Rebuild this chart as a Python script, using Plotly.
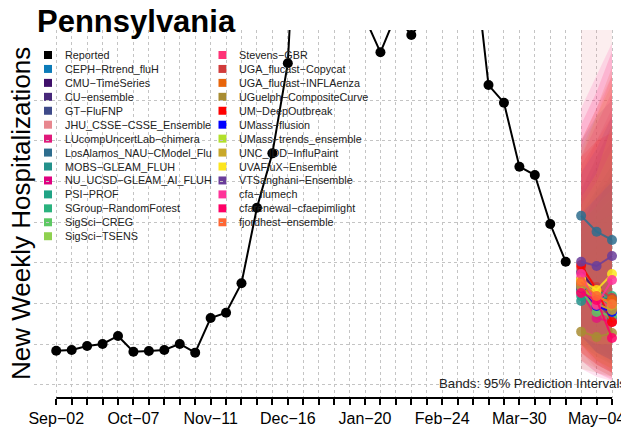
import plotly.graph_objects as go
import pandas as pd

# ---------------- data ----------------
weeks = pd.date_range("2023-09-02", periods=37, freq="7D")   # Sep-02 .. May-11
tick_labels = ["Sep−02", "Oct−07", "Nov−11", "Dec−16", "Jan−20", "Feb−24", "Mar−30", "May−04"]
tick_weeks = [0, 5, 10, 15, 20, 25, 30, 35]

reported = [421, 430, 479, 504, 602, 409, 418, 430, 504, 397,
            823, 888, 1249, 2177, 2845, 3951, 7638, 10254, 12096, 9026,
            4507, 4086, 4544, 4298, 4544, 4728, 4974, 5367, 3684, 3467,
            2681, 2579, 1977, 1514]

model_names = ["CEPH−Rtrend_fluH", "CMU−TimeSeries", "CU−ensemble", "GT−FluFNP",
               "JHU_CSSE−CSSE_Ensemble", "LUcompUncertLab−chimera", "LosAlamos_NAU−CModel_Flu",
               "MOBS−GLEAM_FLUH", "NU_UCSD−GLEAM_AI_FLUH", "PSI−PROF", "SGroup−RandomForest",
               "SigSci−CREG", "SigSci−TSENS", "Stevens−GBR", "UGA_flucast−Copycat",
               "UGA_flucast−INFLAenza", "UGuelph−CompositeCurve", "UM−DeepOutbreak",
               "UMass−flusion", "UMass−trends_ensemble", "UNC_IDD−InfluPaint",
               "UVAFluX−Ensemble", "VTSanghani−Ensemble", "cfa−flumech",
               "cfarenewal−cfaepimlight", "fjordhest−ensemble"]
model_colors = ["#0C7BB8", "#3F0F6A", "#47287A", "#3E4A89", "#E8878F", "#E0197B", "#2E6D8E",
                "#23918B", "#E00080", "#20A385", "#2AB27E", "#5DC863", "#8FD14F", "#FF3377",
                "#D13B3B", "#E8650A", "#A88C32", "#FF0000", "#0000FF", "#B2E02C", "#C8A82A",
                "#FCE51E", "#6A3D9A", "#FF3399", "#FF0066", "#FF6633"]

forecast_weeks = [34, 35, 36]
median = [[1228, 1044, 896], [1388, 1142, 982], [1289, 1093, 1044], [1167, 1019, 823],
          [1253, 1068, 1019], [1142, 823, 774], [2079, 1883, 1781], [1032, 1191, 1044],
          [1203, 970, 921], [1093, 1093, 982], [1265, 1044, 1093], [1167, 896, 847],
          [1216, 1044, 946], [1314, 1081, 921], [1437, 1203, 1068], [1228, 1044, 1044],
          [655, 589, 639], [1474, 1167, 774], [1191, 970, 896], [1289, 1105, 982],
          [1203, 995, 921], [1289, 1167, 1363], [1514, 1461, 1584], [1363, 982, 1289],
          [1130, 1044, 577], [1265, 1093, 995]]
upper95 = [[2300, 2700, 3000], [2400, 2800, 3200], [2000, 2300, 2600], [2100, 2400, 2700],
           [5000, 5500, 6000], [2600, 3000, 3400], [3000, 3300, 3500], [1900, 2400, 2500],
           [2800, 3200, 3600], [1800, 2100, 2300], [2000, 2200, 2600], [1900, 2000, 2100],
           [2000, 2200, 2400], [3000, 3400, 3800], [2700, 3000, 3300], [3000, 3400, 3900],
           [1500, 1700, 1900], [2800, 3000, 3100], [2100, 2300, 2500], [2200, 2500, 2900],
           [2900, 3300, 3700], [2300, 2600, 3200], [2600, 2900, 3300], [3400, 3800, 4200],
           [3200, 3600, 4100], [2800, 3300, 3800]]
lower95 = [[500, 350, 250], [700, 450, 300], [700, 500, 350], [600, 400, 250],
           [300, 150, 80], [500, 250, 150], [1200, 900, 700], [500, 400, 300],
           [400, 250, 150], [550, 400, 300], [600, 400, 350], [600, 400, 300],
           [500, 350, 250], [400, 200, 100], [500, 300, 150], [400, 250, 150],
           [200, 150, 100], [500, 300, 200], [600, 400, 300], [500, 300, 200],
           [300, 200, 100], [600, 500, 500], [700, 600, 600], [200, 100, 50],
           [300, 150, 60], [400, 250, 150]]

y_grid = [0, 500, 1000, 1500, 2000, 2500, 3000, 3500]

# ---------------- figure ----------------
FONT = "Liberation Sans, Arial, sans-serif"
W, H = 629, 431
OFF = 8  # page body margin offset
# desired plot area on screen: x 34..629, y 30..398
ML, MT = 34 - OFF, 30 - OFF
MR = OFF
MB = H - (398 - OFF)
PW, PH = W - ML - MR, H - MT - MB


def hexrgba(h, a):
    h = h.lstrip("#")
    return "rgba(%d,%d,%d,%.3f)" % (int(h[0:2], 16), int(h[2:4], 16), int(h[4:6], 16), a)


def px(xs):
    return (xs - OFF - ML) / PW


def py(ys):
    return (H - MB - (ys - OFF)) / PH


fig = go.Figure()

fx = [weeks[i] for i in forecast_weeks]

# prediction bands
for name, col, lo, up in zip(model_names, model_colors, lower95, upper95):
    fig.add_trace(go.Scatter(
        x=fx + fx[::-1], y=up + lo[::-1], fill="toself", mode="none",
        fillcolor=hexrgba(col, 0.14), hoverinfo="skip", showlegend=False))

# forecast medians
for name, col, med in zip(model_names, model_colors, median):
    fig.add_trace(go.Scatter(
        x=fx, y=med, mode="lines+markers", name=name,
        line=dict(color=hexrgba(col, 0.85), width=2),
        marker=dict(color=hexrgba(col, 0.85), size=10), showlegend=False))

# reported
fig.add_trace(go.Scatter(
    x=list(weeks[:len(reported)]), y=reported, mode="lines+markers", name="Reported",
    line=dict(color="black", width=2), marker=dict(color="black", size=10),
    showlegend=False))

wk = pd.Timedelta(days=7)
x_range = [weeks[0] - 1.44 * wk, weeks[36] + 1.1 * wk]

fig.update_xaxes(
    range=x_range, showline=False, zeroline=False,
    tickmode="array", tickvals=[weeks[i] for i in tick_weeks], ticktext=tick_labels,
    ticks="outside", ticklen=6, tickwidth=1.5, tickcolor="black",
    tickfont=dict(family=FONT, size=16, color="black"),
    showgrid=True, gridcolor="#C4C4C4", griddash="dot", gridwidth=1,
    minor=dict(tickmode="array", tickvals=list(weeks), ticks="outside", ticklen=6,
               tickwidth=1.5, tickcolor="black", showgrid=True,
               gridcolor="#C4C4C4", griddash="dot", gridwidth=1),
)
fig.update_yaxes(
    range=[-160, 4360], showline=False, zeroline=False, showticklabels=False,
    tickmode="array", tickvals=y_grid, ticks="",
    showgrid=True, gridcolor="#C4C4C4", griddash="dot", gridwidth=1,
)

shapes = [dict(type="line", xref="x", yref="paper", x0=weeks[0], x1=weeks[36],
               y0=0, y1=0, line=dict(color="black", width=2))]
annotations = []

# legend (two columns)
legend_names = ["Reported"] + model_names
legend_colors = ["#000000"] + model_colors
for i, (nm, col) in enumerate(zip(legend_names, legend_colors)):
    colidx, row = (0, i) if i < 14 else (1, i - 14)
    sx = 48 if colidx == 0 else 222.5
    tx = 62.5 if colidx == 0 else 237
    yc = 55 + 13.94 * row
    shapes.append(dict(type="rect", xref="paper", yref="paper",
                       x0=px(sx - 4), x1=px(sx + 4), y0=py(yc + 4), y1=py(yc - 4),
                       fillcolor=col, line=dict(width=0), layer="below"))
    annotations.append(dict(xref="paper", yref="paper", x=px(tx), y=py(yc),
                            xanchor="left", yanchor="middle", text=nm, showarrow=False,
                            font=dict(family=FONT, size=10.8, color="#222222")))

annotations.append(dict(xref="paper", yref="paper", x=px(34.5), y=py(22),
                        xanchor="left", yanchor="middle", text="<b>Pennsylvania</b>",
                        showarrow=False, font=dict(family=FONT, size=31, color="black")))
annotations.append(dict(xref="paper", yref="paper", x=px(21), y=py(214),
                        xanchor="center", yanchor="middle", textangle=-90,
                        text="New Weekly Hospitalizations", showarrow=False,
                        font=dict(family=FONT, size=26, color="black")))
annotations.append(dict(xref="paper", yref="paper", x=px(628), y=py(383),
                        xanchor="right", yanchor="middle",
                        text="Bands: 95% Prediction Intervals", showarrow=False,
                        font=dict(family=FONT, size=13.2, color="#222222")))

fig.update_layout(
    width=W, height=H, margin=dict(l=ML, r=MR, t=MT, b=MB, pad=0),
    paper_bgcolor="white", plot_bgcolor="white",
    shapes=shapes, annotations=annotations, showlegend=False,
    font=dict(family=FONT),
)

fig.write_html("out.html")
